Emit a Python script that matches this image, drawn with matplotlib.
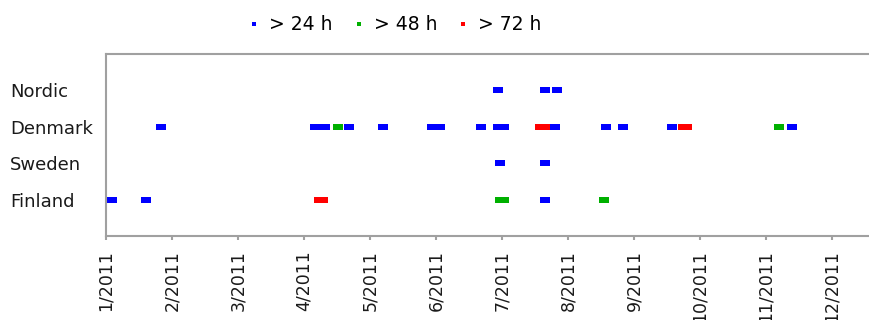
import matplotlib.pyplot as plt
from matplotlib.lines import Line2D

# rows, bottom to top
regions = ['Finland', 'Sweden', 'Denmark', 'Nordic']
month_labels = ['%d/2011' % m for m in range(1, 13)]
tick_step = 31  # days between axis labels

# event days (days since 1 Jan 2011)
h24_nordic = [184, 206, 212]
h24_denmark = [26, 98, 103, 114, 130, 153, 157, 176, 184, 187, 211, 235, 243, 266, 322]
h24_sweden = [185, 206]
h24_finland = [3, 19, 206]
h48_denmark = [109, 316]
h48_finland = [185, 187, 234]
h72_denmark = [204, 206, 271, 273]
h72_finland = [100, 102]

series = [
    ('> 24 h', '#0000ff', {'Nordic': h24_nordic, 'Denmark': h24_denmark,
                           'Sweden': h24_sweden, 'Finland': h24_finland}),
    ('> 48 h', '#00b000', {'Denmark': h48_denmark, 'Finland': h48_finland}),
    ('> 72 h', '#ff0000', {'Denmark': h72_denmark, 'Finland': h72_finland}),
]

dash = [(-1, -0.6), (1, -0.6), (1, 0.6), (-1, 0.6), (-1, -0.6)]

fig = plt.figure(figsize=(8.7, 3.2), dpi=100)
ax = fig.add_axes([106/870, 84/320, 764/870, 182/320])

for name, color, rows in series:
    for region, days in rows.items():
        y = regions.index(region) + 1
        ax.plot(days, [y]*len(days), linestyle='none', marker=dash,
                markersize=7.2, markeredgewidth=0, color=color)

ax.set_xlim(0, 764/66*tick_step)
ax.set_ylim(0, 5)
ax.set_xticks([i*tick_step for i in range(12)])
ax.set_xticklabels(month_labels, rotation=90, va='top', ha='center',
                   fontsize=12.5, color='#1a1a1a')
ax.set_yticks(range(1, 5))
ax.set_yticklabels(regions, ha='left', fontsize=13, color='#1a1a1a')
ax.tick_params(axis='y', length=0, pad=69)
ax.tick_params(axis='x', length=3, width=1.5, color='#a0a0a0', pad=7)

for s in ['left', 'top', 'bottom']:
    ax.spines[s].set_color('#a0a0a0')
    ax.spines[s].set_linewidth(1.5)
ax.spines['right'].set_visible(False)

handles = [Line2D([], [], linestyle='none', marker='s', markersize=2.5,
                  color=c, markeredgewidth=0) for _, c, _ in series]
fig.legend(handles, [n for n, _, _ in series], loc='center',
           bbox_to_anchor=(396/870, 1-25/320), ncol=3, frameon=False,
           fontsize=13.5, handlelength=0.4, handletextpad=0.6,
           columnspacing=1.2)

fig.savefig('out.png', dpi=100)
